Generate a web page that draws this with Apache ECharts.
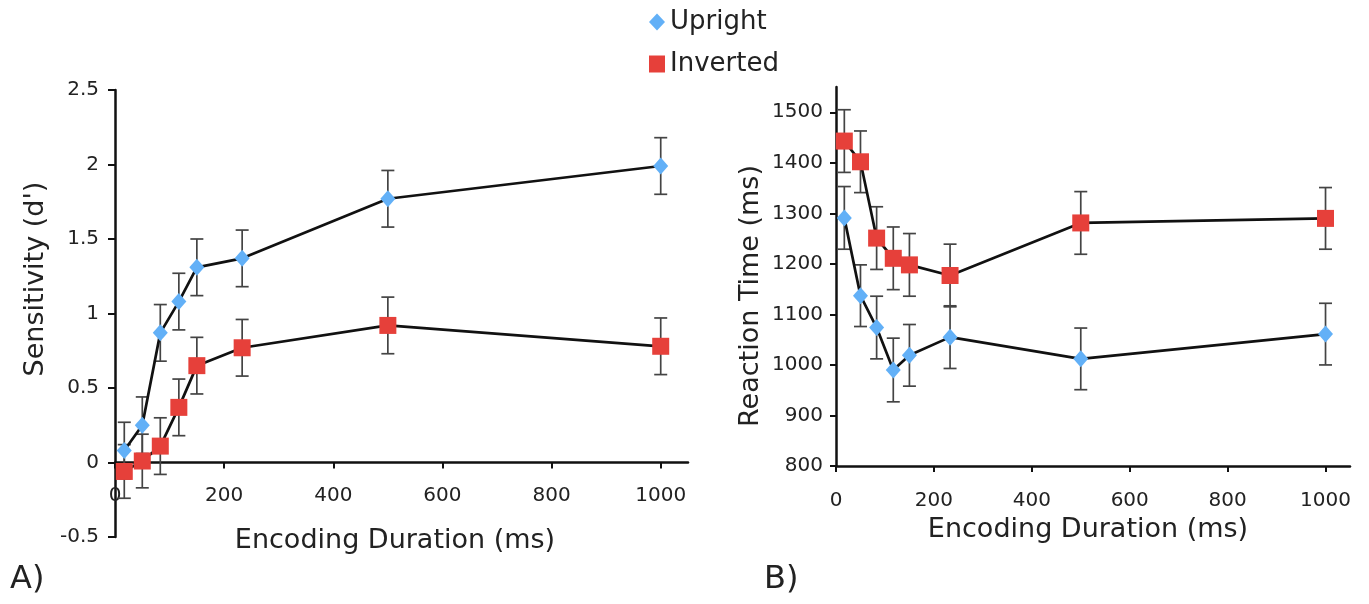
<!DOCTYPE html>
<html>
<head>
<meta charset="utf-8">
<script src="https://cdn.jsdelivr.net/npm/echarts@6/dist/echarts.min.js"></script>
<style>
html,body{margin:0;padding:0;background:#fff;}
#main{width:1369px;height:604px;}
</style>
</head>
<body>
<div id="main"></div>
<script>
// ---- data ----
const durations = [17, 50, 83, 117, 150, 233, 500, 1000];

const sensUpright   = [0.08, 0.25, 0.87, 1.08, 1.31, 1.37, 1.77, 1.99];
const sensUprightErr= [0.19, 0.19, 0.19, 0.19, 0.19, 0.19, 0.19, 0.19];
const sensInverted   = [-0.06, 0.01, 0.11, 0.37, 0.65, 0.77, 0.92, 0.78];
const sensInvertedErr= [0.18, 0.18, 0.19, 0.19, 0.19, 0.19, 0.19, 0.19];

const rtUpright   = [1291, 1137, 1074, 990, 1019, 1055, 1012, 1061];
const rtUprightErr= [62, 61, 62, 63, 61, 62, 61, 61];
const rtInverted   = [1443, 1402, 1251, 1211, 1198, 1177, 1281, 1290];
const rtInvertedErr= [62, 61, 62, 62, 62, 62, 62, 61];

const xTicks = [0, 200, 400, 600, 800, 1000];
const sensTicks = [-0.5, 0, 0.5, 1, 1.5, 2, 2.5];
const rtTicks = [800, 900, 1000, 1100, 1200, 1300, 1400, 1500];

const FONT = 'DejaVu Sans';
const TXT = '#222';
const BLUE = '#62b0f7';
const RED = '#e6403a';

// layout
const G0 = {left:115, top:90, width:573, height:447};
const G1 = {left:836, top:87, width:514, height:379};
const SENS_MIN = -0.5, SENS_MAX = 2.5;
// x axis of panel A sits on the zero line of d'
const zeroOffset = -G0.height * (0 - SENS_MIN) / (SENS_MAX - SENS_MIN);

function pairs(xs, ys){ return xs.map((x,i)=>[x, ys[i]]); }
function errData(xs, ys, es){ return xs.map((x,i)=>[x, ys[i]-es[i], ys[i]+es[i]]); }
const plain = v => String(v);

function errRender(params, api){
  const x = api.value(0), lo = api.value(1), hi = api.value(2);
  const p1 = api.coord([x, hi]), p2 = api.coord([x, lo]);
  const w = 6.5;
  const st = {stroke:'#444', lineWidth:1.7};
  return {type:'group', children:[
    {type:'line', shape:{x1:p1[0], y1:p1[1], x2:p2[0], y2:p2[1]}, style:st},
    {type:'line', shape:{x1:p1[0]-w, y1:p1[1], x2:p1[0]+w, y2:p1[1]}, style:st},
    {type:'line', shape:{x1:p2[0]-w, y1:p2[1], x2:p2[0]+w, y2:p2[1]}, style:st}
  ]};
}

function xAxisCfg(idx, margin, offset){
  return {
    type:'value', gridIndex:idx, min:0, max:1050, position:'bottom', offset:offset,
    axisLine:{show:true, onZero:false, lineStyle:{color:'#111', width:2.5}},
    axisTick:{show:true, length:6, customValues:xTicks, lineStyle:{color:'#111', width:2}},
    axisLabel:{customValues:xTicks, margin:margin, fontFamily:FONT, fontSize:20, color:TXT, formatter:plain},
    splitLine:{show:false}
  };
}

const chart = echarts.init(document.getElementById('main'), null, {renderer:'canvas'});
chart.setOption({
  backgroundColor:'#fff',
  animation:false,
  legend:{
    orient:'vertical', left:644, top:4, itemWidth:16, itemHeight:17, itemGap:16,
    textStyle:{fontFamily:FONT, fontSize:26, color:TXT},
    data:[{name:'Upright', icon:'diamond'}, {name:'Inverted', icon:'rect'}]
  },
  grid:[ G0, G1 ],
  xAxis:[ xAxisCfg(0, 23, zeroOffset), xAxisCfg(1, 25, 0) ],
  yAxis:[
    {type:'value', gridIndex:0, min:SENS_MIN, max:SENS_MAX, interval:0.5,
     axisLine:{show:true, onZero:false, lineStyle:{color:'#111', width:2.5}},
     axisTick:{show:true, length:7, customValues:sensTicks, lineStyle:{color:'#111', width:2}},
     axisLabel:{customValues:sensTicks, margin:16, fontFamily:FONT, fontSize:20, color:TXT, formatter:plain},
     splitLine:{show:false}},
    {type:'value', gridIndex:1, min:800, max:1550, interval:100,
     axisLine:{show:true, onZero:false, lineStyle:{color:'#111', width:2.5}},
     axisTick:{show:true, length:6, customValues:rtTicks, lineStyle:{color:'#111', width:2}},
     axisLabel:{customValues:rtTicks, margin:13, fontFamily:FONT, fontSize:20, color:TXT, formatter:plain},
     splitLine:{show:false}}
  ],
  series:[
    {type:'line', name:'Upright', xAxisIndex:0, yAxisIndex:0, data:pairs(durations, sensUpright),
     symbol:'diamond', symbolSize:[15,17], itemStyle:{color:BLUE}, lineStyle:{color:'#111', width:2.7}, z:5, clip:false},
    {type:'line', name:'Inverted', xAxisIndex:0, yAxisIndex:0, data:pairs(durations, sensInverted),
     symbol:'rect', symbolSize:17, itemStyle:{color:RED}, lineStyle:{color:'#111', width:2.7}, z:5, clip:false},
    {type:'line', name:'Upright', xAxisIndex:1, yAxisIndex:1, data:pairs(durations, rtUpright),
     symbol:'diamond', symbolSize:[15,17], itemStyle:{color:BLUE}, lineStyle:{color:'#111', width:2.7}, z:5, clip:false},
    {type:'line', name:'Inverted', xAxisIndex:1, yAxisIndex:1, data:pairs(durations, rtInverted),
     symbol:'rect', symbolSize:17, itemStyle:{color:RED}, lineStyle:{color:'#111', width:2.7}, z:5, clip:false},
    {type:'custom', xAxisIndex:0, yAxisIndex:0, renderItem:errRender, data:errData(durations, sensUpright, sensUprightErr), z:3, clip:false},
    {type:'custom', xAxisIndex:0, yAxisIndex:0, renderItem:errRender, data:errData(durations, sensInverted, sensInvertedErr), z:3, clip:false},
    {type:'custom', xAxisIndex:1, yAxisIndex:1, renderItem:errRender, data:errData(durations, rtUpright, rtUprightErr), z:3, clip:false},
    {type:'custom', xAxisIndex:1, yAxisIndex:1, renderItem:errRender, data:errData(durations, rtInverted, rtInvertedErr), z:3, clip:false}
  ],
  graphic:[
    {type:'text', x:395, y:541, style:{text:'Encoding Duration (ms)', fontFamily:FONT, fontSize:27, fill:TXT, align:'center', verticalAlign:'middle'}},
    {type:'text', x:1088, y:530, style:{text:'Encoding Duration (ms)', fontFamily:FONT, fontSize:27, fill:TXT, align:'center', verticalAlign:'middle'}},
    {type:'text', x:36, y:279, rotation:Math.PI/2, style:{text:"Sensitivity (d')", fontFamily:FONT, fontSize:27, fill:TXT, align:'center', verticalAlign:'middle'}},
    {type:'text', x:751, y:296, rotation:Math.PI/2, style:{text:'Reaction Time (ms)', fontFamily:FONT, fontSize:27, fill:TXT, align:'center', verticalAlign:'middle'}},
    {type:'text', x:10, y:580, style:{text:'A)', fontFamily:FONT, fontSize:32, fill:TXT, align:'left', verticalAlign:'middle'}},
    {type:'text', x:764, y:580, style:{text:'B)', fontFamily:FONT, fontSize:32, fill:TXT, align:'left', verticalAlign:'middle'}}
  ]
});
</script>
</body>
</html>
